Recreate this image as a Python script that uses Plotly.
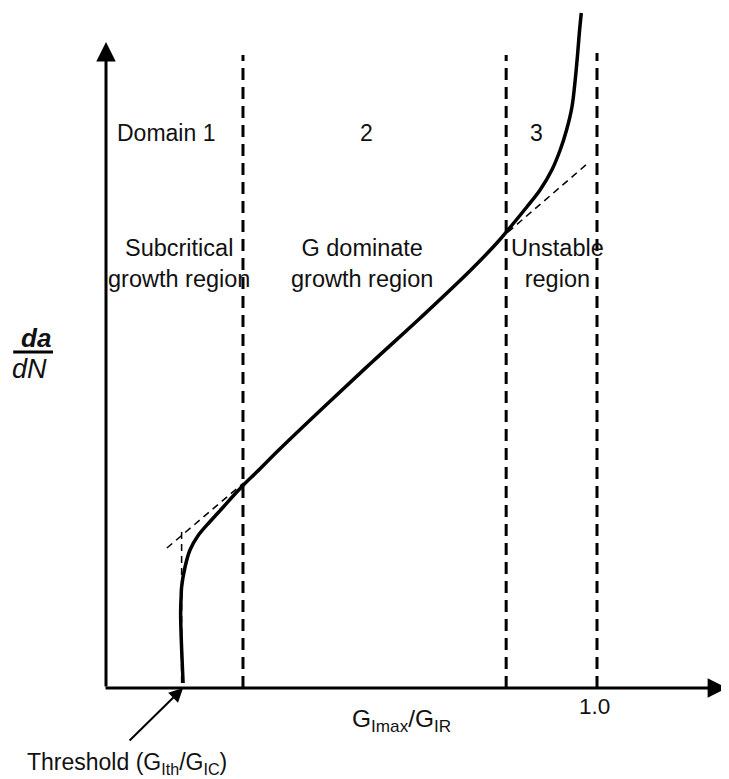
import plotly.graph_objects as go

# ---- data (x: G_Imax/G_IR, y: da/dN in arbitrary units) ----
curve_x = [0.157, 0.155, 0.153, 0.152, 0.153, 0.154, 0.161, 0.171, 0.187, 0.212,
           0.238, 0.258, 0.280, 0.307, 0.354, 0.446, 0.542, 0.640, 0.741, 0.796,
           0.822, 0.857, 0.884, 0.908, 0.925, 0.938, 0.949, 0.955, 0.960, 0.964, 0.968]
curve_y = [0.05, 0.28, 0.53, 0.75, 0.91, 1.01, 1.21, 1.38, 1.52, 1.665,
           1.805, 1.915, 2.03, 2.16, 2.39, 2.82, 3.26, 3.70, 4.17, 4.45,
           4.60, 4.81, 4.98, 5.18, 5.38, 5.58, 5.81, 6.05, 6.31, 6.55, 6.75]

domain_bounds = [0.279, 0.815, 1.0]
domain_top = [6.33, 6.33, 6.35]

tangent_low_x = [0.124, 0.280]
tangent_low_y = [1.40, 2.05]
threshold_x = [0.154, 0.154]
threshold_y = [1.56, 0.05]
tangent_high_x = [0.800, 0.982]
tangent_high_y = [4.48, 5.25]

domain_labels = ["Domain 1", "2", "3"]
domain_label_x = [0.122, 0.530, 0.876]
region_labels = ["Subcritical<br>growth region", "G dominate<br>growth region", "Unstable<br>region"]
region_label_x = [0.149, 0.521, 0.919]

x_tip = 1.265
y_tip = 6.46
threshold_pt = 0.157

FONT = "Liberation Sans, Arial, sans-serif"
TXT = "#111111"

fig = go.Figure()

# vertical dashed domain boundaries
for xb, yt in zip(domain_bounds, domain_top):
    fig.add_trace(go.Scatter(x=[xb, xb], y=[0, yt], mode="lines",
                             line=dict(color="black", width=3, dash="12px,7px"),
                             hoverinfo="skip", showlegend=False))

# thin dashed tangents
for xs, ys in [(tangent_low_x, tangent_low_y), (threshold_x, threshold_y),
               (tangent_high_x, tangent_high_y)]:
    fig.add_trace(go.Scatter(x=xs, y=ys, mode="lines",
                             line=dict(color="black", width=1.5, dash="7px,5px"),
                             hoverinfo="skip", showlegend=False))

# main curve
fig.add_trace(go.Scatter(x=curve_x, y=curve_y, mode="lines",
                         line=dict(color="black", width=3.5, shape="spline", smoothing=1.0),
                         hoverinfo="skip", showlegend=False))

ann = []
# axes with arrows
ann.append(dict(x=0, y=y_tip, ax=0, ay=0, xref="x", yref="y", axref="x", ayref="y",
                text="", showarrow=True, arrowhead=2, arrowsize=1.3, arrowwidth=3,
                arrowcolor="black", standoff=0, startstandoff=0))
ann.append(dict(x=x_tip, y=0, ax=-0.004, ay=0, xref="x", yref="y", axref="x", ayref="y",
                text="", showarrow=True, arrowhead=2, arrowsize=1.3, arrowwidth=3,
                arrowcolor="black", standoff=0, startstandoff=0))
# threshold arrow
ann.append(dict(x=threshold_pt, y=0, ax=0.045, ay=-0.54, xref="x", yref="y", axref="x", ayref="y",
                text="", showarrow=True, arrowhead=2, arrowsize=1.4, arrowwidth=2,
                arrowcolor="black", standoff=0))

for t, xv in zip(domain_labels, domain_label_x):
    ann.append(dict(x=xv, y=5.55, xref="x", yref="y", text=t, showarrow=False,
                    font=dict(family=FONT, size=23, color=TXT)))
for t, xv in zip(region_labels, region_label_x):
    ann.append(dict(x=xv, y=4.245, xref="x", yref="y", text=t, showarrow=False,
                    font=dict(family=FONT, size=23.5, color=TXT)))

ann.append(dict(x=0.601, y=-0.32, xref="x", yref="y", text="G<sub>Imax</sub>/G<sub>IR</sub>",
                showarrow=False, font=dict(family=FONT, size=24.5, color=TXT)))
ann.append(dict(x=0.994, y=-0.18, xref="x", yref="y", text="1.0",
                showarrow=False, font=dict(family=FONT, size=22.5, color=TXT)))
ann.append(dict(x=0.043, y=-0.75, xref="x", yref="y", text="Threshold (G<sub>Ith</sub>/G<sub>IC</sub>)",
                showarrow=False, font=dict(family=FONT, size=23, color=TXT)))
ann.append(dict(x=-0.143, y=3.50, xref="x", yref="y", text="<b><i>da</i></b>",
                showarrow=False, font=dict(family=FONT, size=26, color=TXT)))
ann.append(dict(x=-0.155, y=3.19, xref="x", yref="y", text="<i>dN</i>",
                showarrow=False, font=dict(family=FONT, size=27, color=TXT)))

fig.add_shape(type="line", x0=-0.189, x1=-0.108, y0=3.36, y1=3.36, xref="x", yref="y",
              line=dict(color="black", width=3))

# page body has an 8px margin: figure spans page pixels 8..729 and 8..779
fig.update_layout(
    width=721, height=771, autosize=False,
    margin=dict(l=0, r=0, t=0, b=0),
    paper_bgcolor="white", plot_bgcolor="white",
    xaxis=dict(range=[-98/491, 623/491], visible=False, fixedrange=True),
    yaxis=dict(range=[-0.91, 6.80], visible=False, fixedrange=True),
    annotations=ann,
    showlegend=False,
)

fig.write_html("out.html")
